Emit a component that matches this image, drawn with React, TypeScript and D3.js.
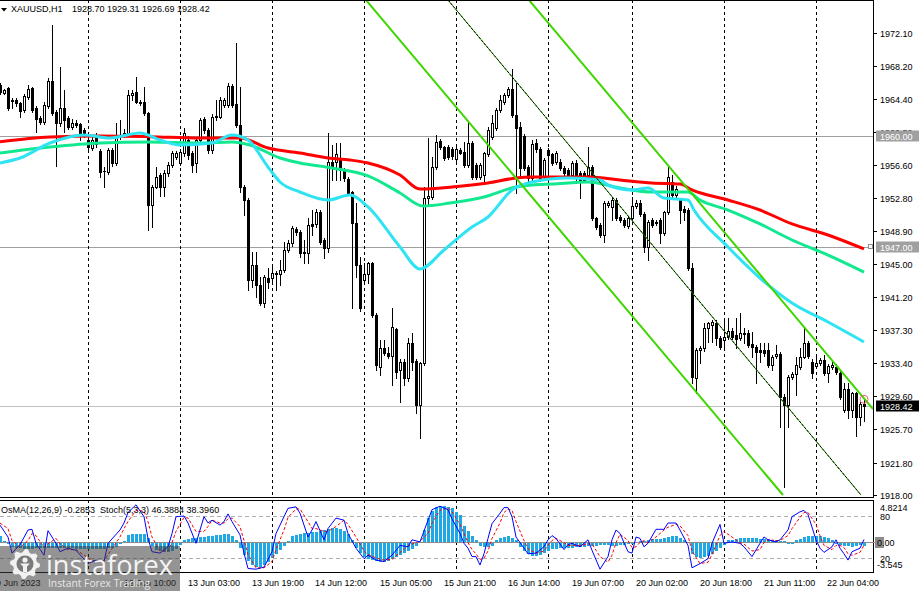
import React, { useEffect, useRef } from 'react';
import * as d3 from 'd3';

const W = 919;
const H = 591;

// OHLC per H1 bar (open, high, low, close)
const ohlc: [number, number, number, number][] = [
  [1966.0, 1966.2, 1965.0, 1965.23], [1965.1, 1965.6, 1964.9, 1965.4], [1965.62, 1965.8, 1963.1, 1963.28], [1964.2, 1964.45, 1963.28, 1964.1],
  [1964.25, 1964.5, 1963.6, 1963.86], [1963.86, 1964.0, 1962.3, 1963.0], [1963.08, 1964.9, 1962.9, 1964.72], [1964.6, 1966.0, 1964.4, 1965.54],
  [1965.62, 1965.8, 1962.9, 1963.08], [1963.28, 1963.5, 1960.55, 1962.03], [1962.18, 1962.4, 1961.5, 1961.72], [1961.72, 1964.0, 1961.5, 1963.67],
  [1963.55, 1966.79, 1963.3, 1966.48], [1966.48, 1973.03, 1962.5, 1962.77], [1962.9, 1963.1, 1956.56, 1961.52], [1961.52, 1968.16, 1961.2, 1963.28],
  [1963.28, 1965.42, 1960.55, 1961.91], [1962.18, 1962.4, 1960.8, 1961.13], [1961.13, 1962.0, 1960.9, 1961.52], [1961.52, 1961.9, 1961.1, 1961.37],
  [1961.4, 1961.6, 1959.57, 1960.35], [1960.7, 1961.0, 1959.9, 1960.2], [1959.57, 1960.0, 1958.5, 1958.79], [1958.6, 1959.9, 1958.4, 1959.57],
  [1960.15, 1960.4, 1958.8, 1959.1], [1958.32, 1958.5, 1955.27, 1955.86], [1955.9, 1956.45, 1954.1, 1955.95], [1955.86, 1958.6, 1955.6, 1958.4],
  [1958.4, 1958.6, 1956.5, 1956.84], [1956.84, 1961.52, 1956.6, 1960.15], [1959.96, 1961.91, 1959.7, 1960.15], [1960.15, 1960.8, 1959.9, 1960.43],
  [1960.35, 1965.42, 1960.1, 1964.84], [1964.84, 1965.4, 1964.2, 1965.11], [1965.23, 1966.98, 1963.9, 1964.06], [1964.06, 1964.3, 1963.7, 1963.94],
  [1964.06, 1965.81, 1962.5, 1962.69], [1962.69, 1962.9, 1949.03, 1951.96], [1951.96, 1954.3, 1949.42, 1954.1], [1954.1, 1956.45, 1953.9, 1955.27],
  [1955.47, 1955.7, 1953.0, 1954.1], [1954.1, 1956.0, 1953.0, 1955.74], [1955.67, 1957.0, 1955.4, 1956.64], [1956.64, 1958.3, 1956.4, 1958.01],
  [1957.62, 1958.3, 1957.3, 1958.01], [1956.84, 1958.5, 1956.6, 1958.2], [1958.01, 1960.94, 1957.7, 1960.35], [1959.57, 1960.0, 1957.4, 1957.81],
  [1958.01, 1958.3, 1955.86, 1956.64], [1956.84, 1959.9, 1955.86, 1959.57], [1959.57, 1962.2, 1959.3, 1961.91], [1961.99, 1962.3, 1960.4, 1960.74],
  [1960.74, 1961.0, 1958.1, 1958.4], [1958.4, 1962.6, 1958.1, 1962.3], [1962.38, 1964.25, 1961.9, 1962.22], [1962.3, 1964.64, 1962.1, 1964.25],
  [1963.67, 1964.5, 1963.4, 1964.25], [1963.67, 1966.2, 1963.4, 1965.89], [1965.89, 1966.1, 1963.4, 1963.67], [1963.79, 1970.89, 1961.1, 1961.33],
  [1961.33, 1965.81, 1953.52, 1954.1], [1954.1, 1954.3, 1950.79, 1952.54], [1952.54, 1952.8, 1942.01, 1943.18], [1943.18, 1946.5, 1942.4, 1944.93],
  [1944.93, 1946.5, 1941.23, 1942.59], [1942.59, 1943.57, 1940.2, 1940.45], [1940.45, 1943.8, 1940.06, 1943.57], [1943.45, 1944.54, 1942.2, 1942.9],
  [1943.37, 1944.93, 1943.1, 1943.96], [1943.96, 1944.2, 1942.01, 1943.84], [1943.84, 1945.52, 1942.59, 1944.35], [1944.35, 1947.67, 1944.1, 1946.69],
  [1946.69, 1947.86, 1946.4, 1947.47], [1947.47, 1949.5, 1947.2, 1949.23], [1949.11, 1949.42, 1948.5, 1948.76], [1948.84, 1949.0, 1945.91, 1946.3],
  [1946.3, 1947.86, 1945.13, 1946.4], [1946.3, 1950.4, 1945.13, 1949.62], [1949.73, 1951.4, 1948.45, 1949.5], [1949.7, 1951.49, 1949.4, 1951.18],
  [1951.18, 1951.4, 1947.4, 1947.67], [1947.86, 1948.1, 1945.7, 1946.89], [1946.89, 1960.35, 1946.5, 1957.03], [1957.03, 1958.99, 1954.89, 1956.25],
  [1957.03, 1959.18, 1954.89, 1957.89], [1957.42, 1959.18, 1954.89, 1956.06], [1956.06, 1956.3, 1954.8, 1955.08], [1954.97, 1955.2, 1953.1, 1953.32],
  [1953.44, 1953.6, 1939.86, 1949.89], [1949.89, 1952.15, 1943.57, 1944.93], [1944.93, 1945.91, 1939.6, 1939.86], [1943.18, 1945.13, 1942.9, 1943.88],
  [1943.88, 1945.3, 1942.8, 1945.13], [1945.13, 1945.3, 1938.8, 1939.08], [1939.08, 1939.3, 1932.64, 1933.23], [1933.03, 1936.15, 1932.06, 1935.18],
  [1935.18, 1936.15, 1934.4, 1934.67], [1934.67, 1935.37, 1934.1, 1934.28], [1934.28, 1939.86, 1930.89, 1937.71], [1937.4, 1937.6, 1931.67, 1932.45],
  [1932.64, 1933.9, 1928.93, 1933.62], [1933.62, 1933.9, 1930.89, 1931.67], [1931.67, 1936.35, 1931.4, 1935.76], [1935.76, 1936.93, 1932.64, 1933.62],
  [1933.7, 1933.9, 1927.57, 1928.54], [1928.54, 1933.6, 1924.64, 1933.42], [1933.42, 1954.1, 1933.2, 1952.74], [1952.74, 1959.77, 1951.96, 1953.01],
  [1952.94, 1957.62, 1952.7, 1956.45], [1956.45, 1960.16, 1956.2, 1959.38], [1959.46, 1959.7, 1958.5, 1958.71], [1958.71, 1958.9, 1957.2, 1957.43],
  [1958.71, 1959.0, 1957.4, 1957.62], [1958.5, 1958.8, 1957.4, 1957.7], [1957.31, 1958.7, 1957.1, 1958.48], [1958.4, 1958.6, 1957.9, 1958.09],
  [1958.21, 1959.38, 1956.4, 1956.65], [1956.65, 1961.72, 1956.4, 1959.18], [1959.18, 1959.4, 1955.0, 1955.2], [1956.65, 1956.9, 1955.0, 1955.28],
  [1955.28, 1956.9, 1955.0, 1956.65], [1955.47, 1958.2, 1954.5, 1958.01], [1957.93, 1961.13, 1957.7, 1960.74], [1959.96, 1962.5, 1959.7, 1961.52],
  [1960.94, 1963.3, 1960.7, 1963.09], [1963.09, 1964.84, 1962.9, 1964.26], [1964.06, 1965.1, 1963.8, 1964.84], [1964.84, 1965.8, 1964.6, 1965.51],
  [1965.51, 1967.85, 1962.3, 1962.5], [1962.5, 1966.21, 1953.33, 1960.94], [1961.13, 1961.72, 1955.08, 1956.25], [1960.04, 1960.3, 1956.0, 1956.25],
  [1956.37, 1956.6, 1954.8, 1955.08], [1955.08, 1959.57, 1954.9, 1959.1], [1959.18, 1959.65, 1958.2, 1958.48], [1958.48, 1958.7, 1954.8, 1955.08],
  [1955.28, 1957.5, 1955.0, 1957.23], [1958.4, 1958.6, 1955.67, 1957.82], [1957.93, 1958.1, 1956.6, 1956.84], [1957.04, 1958.3, 1956.8, 1958.09],
  [1957.04, 1957.3, 1956.0, 1956.25], [1956.25, 1956.5, 1955.4, 1955.67], [1956.06, 1956.3, 1955.2, 1955.47], [1955.47, 1957.1, 1955.2, 1956.84],
  [1956.84, 1957.23, 1954.5, 1955.47], [1955.67, 1955.9, 1952.74, 1954.89], [1955.67, 1955.9, 1954.6, 1954.89], [1955.47, 1958.79, 1955.2, 1956.37],
  [1956.37, 1956.6, 1950.2, 1950.4], [1950.4, 1950.6, 1949.2, 1949.42], [1949.62, 1949.9, 1948.2, 1948.45], [1948.45, 1952.4, 1947.67, 1952.16],
  [1951.96, 1952.4, 1951.7, 1952.16], [1951.77, 1952.94, 1950.21, 1952.55], [1952.55, 1952.8, 1950.2, 1950.4], [1950.59, 1950.8, 1950.0, 1950.21],
  [1950.21, 1950.4, 1949.4, 1949.62], [1949.5, 1950.6, 1949.3, 1950.4], [1950.4, 1952.94, 1950.2, 1951.88], [1951.88, 1952.5, 1951.6, 1952.24],
  [1952.24, 1952.5, 1950.7, 1950.91], [1950.91, 1951.1, 1946.5, 1947.08], [1947.08, 1950.2, 1945.52, 1950.01], [1950.21, 1950.4, 1949.4, 1949.62],
  [1950.01, 1950.2, 1949.6, 1949.82], [1950.21, 1950.4, 1947.5, 1948.64], [1948.64, 1951.3, 1948.4, 1951.1], [1951.1, 1956.53, 1950.9, 1955.28],
  [1954.69, 1955.5, 1952.9, 1953.13], [1953.13, 1954.2, 1952.9, 1953.8], [1952.55, 1952.8, 1949.81, 1951.37], [1951.45, 1951.9, 1950.2, 1951.18],
  [1951.37, 1951.6, 1944.3, 1944.54], [1944.54, 1945.13, 1931.08, 1931.86], [1931.66, 1935.2, 1929.91, 1934.98], [1934.98, 1935.4, 1933.42, 1935.18],
  [1935.18, 1938.1, 1934.9, 1937.52], [1937.52, 1938.3, 1935.96, 1938.1], [1937.91, 1938.5, 1935.96, 1938.22], [1938.1, 1938.49, 1935.57, 1936.35],
  [1936.35, 1936.6, 1935.1, 1935.37], [1936.15, 1938.69, 1935.37, 1936.54], [1936.54, 1938.69, 1936.3, 1937.21], [1937.21, 1937.5, 1936.3, 1936.54],
  [1936.74, 1938.69, 1935.18, 1936.23], [1936.35, 1939.35, 1936.1, 1937.01], [1936.93, 1937.52, 1935.76, 1936.82], [1936.93, 1937.32, 1935.3, 1935.57],
  [1935.65, 1937.1, 1934.2, 1935.37], [1935.37, 1935.6, 1931.08, 1934.79], [1934.98, 1935.76, 1933.62, 1934.79], [1934.98, 1935.76, 1934.3, 1934.59],
  [1934.98, 1935.76, 1933.0, 1933.23], [1933.23, 1934.4, 1932.64, 1934.2], [1934.28, 1935.57, 1934.0, 1934.51], [1934.51, 1934.7, 1926.01, 1929.52],
  [1929.52, 1929.8, 1918.98, 1928.54], [1928.54, 1932.1, 1926.01, 1931.86], [1931.86, 1932.4, 1931.6, 1932.17], [1932.17, 1934.2, 1929.71, 1933.23],
  [1933.03, 1935.18, 1932.8, 1934.2], [1934.2, 1937.52, 1934.0, 1935.76], [1935.76, 1936.0, 1934.0, 1934.28], [1933.62, 1933.9, 1931.66, 1932.25],
  [1933.11, 1934.4, 1932.9, 1933.5], [1933.42, 1934.1, 1933.2, 1933.81], [1933.81, 1934.4, 1932.0, 1932.25], [1932.33, 1933.3, 1931.27, 1933.11],
  [1933.03, 1933.81, 1932.8, 1933.23], [1933.03, 1933.3, 1932.2, 1932.45], [1932.33, 1932.5, 1929.3, 1929.52], [1927.96, 1931.08, 1927.7, 1930.43],
  [1930.43, 1931.08, 1926.98, 1927.96], [1927.96, 1930.1, 1927.18, 1929.91], [1929.91, 1930.1, 1924.91, 1927.18], [1927.18, 1928.9, 1926.2, 1928.66],
  [1928.7, 1929.31, 1926.69, 1928.42],
];

// Moving averages read as [bar, price]
const maRed: [number, number][] = [
  [0, 1959.37], [12.5, 1959.92], [25, 1960.04], [37.5, 1959.96], [50, 1959.81], [60, 1959.81], [67, 1958.63], [75, 1958.05],
  [82, 1957.46], [87.5, 1957.23], [92, 1956.88], [100, 1955.47], [105, 1953.83], [113, 1954.07], [122, 1954.54], [129, 1955.12],
  [133, 1955.24], [147.5, 1955.24], [155, 1954.89], [163, 1954.54], [170, 1954.42], [173, 1953.72], [182, 1952.54], [190, 1951.37],
  [198, 1949.74], [207, 1948.45], [216, 1946.81],
];
const maGreen: [number, number][] = [
  [0, 1958.05], [12.5, 1958.75], [25, 1959.22], [37.5, 1959.34], [50, 1959.22], [58, 1959.34], [62.5, 1958.99], [70, 1957.46],
  [75, 1956.88], [83, 1956.29], [92, 1955.36], [100, 1953.37], [105.75, 1951.84], [112.5, 1952.19], [121, 1952.9], [129, 1954.07],
  [133, 1954.3], [138, 1954.42], [147, 1954.65], [155, 1953.95], [163, 1953.48], [172, 1953.48], [175, 1952.54], [182, 1951.37],
  [190, 1949.74], [198, 1947.86], [207, 1946.1], [216, 1944.11],
];
const maCyan: [number, number][] = [
  [0, 1956.88], [5, 1957.46], [12.5, 1959.22], [21, 1960.16], [27.5, 1959.81], [35, 1960.39], [40, 1959.57], [45, 1958.99],
  [53, 1959.22], [58, 1960.16], [62, 1959.57], [67, 1956.41], [70, 1954.65], [75, 1953.48], [82, 1952.54], [87.5, 1953.13],
  [92, 1951.73], [100, 1947.04], [105, 1944.47], [111, 1946.69], [118, 1949.38], [122, 1950.55], [128, 1953.72], [133, 1954.65],
  [142, 1955.12], [150, 1954.89], [152, 1954.3], [158, 1953.72], [162, 1953.95], [166, 1952.78], [172, 1952.54], [173.5, 1951.37],
  [182, 1947.04], [190, 1943.41], [198, 1940.48], [207, 1938.26], [216, 1935.92],
];

// Channel trend lines: [bar1, price1, bar2, price2]
const channelLines: [number, number, number, number][] = [
  [91.5, 1975.96, 195.75, 1918.0],
  [132.25, 1975.96, 218.25, 1928.07],
];
const channelMid: [number, number, number, number] = [112, 1975.96, 215.25, 1918.0];

// OsMA(12,26,9) histogram, one value per bar
const osma: number[] = [
  0.72, 0.12, -0.12,
  -0.48, -0.6, -0.6, -0.72, -0.72, -0.72, -0.6, -0.6, -0.6, -0.6, -0.6, -0.6, -0.6, -0.6, -0.6, -0.6, -0.72, -0.72, -0.72, -0.72, -0.72, -0.72, -0.72, -0.72, -0.6, -0.6, -0.48,
  -0.12, 0.12,
  0.84, 0.96, 0.96, 0.96, 0.96,
  0.48, -0.36,
  -0.84, -0.96, -1.08, -1.08, -0.96, -0.72,
  -0.24,
  0.24, 0.36, 0.48, 0.48, 0.6, 0.6, 0.72, 0.72, 0.84, 0.84, 0.96, 0.96,
  0.72, 0.24,
  -0.6, -1.43, -2.15, -2.63, -2.87, -2.87, -2.63, -2.27, -1.79, -1.31, -0.84, -0.36,
  0.12,
  0.72, 0.84, 0.96, 1.08, 1.08, 1.2, 1.2, 1.31, 1.43, 1.55, 1.67, 1.67, 1.55, 1.31, 0.96,
  0.24,
  -0.6, -1.2, -1.67, -1.91, -2.03, -2.15, -2.27, -2.27, -2.15, -1.91, -1.67, -1.43, -1.2, -0.96, -0.72, -0.36,
  0,
  1.43, 2.87, 3.7, 4.18, 4.3, 4.3, 4.18, 4.06, 3.59, 3.23, 1.91, 1.31, 0.72, 0.24,
  -0.36, -0.48, -0.48, -0.36,
  0.24, 0.48, 0.6, 0.72, 0.48, 0.24,
  -0.48, -0.96, -1.31, -1.55, -1.55, -1.43, -1.2, -0.96,
  -0.72, -0.72, -0.6, -0.6, -0.6, -0.6, -0.48, -0.48, -0.48,
  -0.36, -0.36, -0.36, -0.24, -0.24, -0.24, -0.36, -0.36, -0.24, -0.24,
  -0.12, -0.12, 0, 0.12, 0.12, 0.24, 0.36, 0.36,
  0.36, 0.48, 0.6, 0.72, 0.72, 0.48, 0.24,
  0,
  -1.31, -1.67, -1.79, -1.67, -1.55, -1.31, -0.96, -0.6, -0.24,
  0.24, 0.24, 0.36,
  0.48, 0.48, 0.48, 0.48, 0.48, 0.36, 0.36, 0.36, 0.24, 0.24, 0.12, 0.12,
  -0.12, -0.12,
  0.24, 0.36, 0.6, 0.72, 0.72, 0.72, 0.72, 0.6, 0.48, 0.24,
  -0.12, -0.24, -0.36, -0.36, -0.48, -0.36, -0.24, -0.29,
];

// Stochastic(5,3,3) main and signal, [bar, value]
const stochMain: [number, number][] = [
  [0, 67], [2, 50], [3, 27], [5, 39], [7, 60], [8, 61], [9, 41], [11, 24], [12, 59], [14, 41], [15, 29], [17, 34], [19, 31],
  [22, 12], [24, 17], [26, 15], [27, 41], [30, 60], [31, 70], [32, 85], [34, 96], [36, 79], [37, 48], [38, 29], [40, 27],
  [42, 36], [43, 55], [44, 79], [46, 80], [47, 70], [49, 41], [51, 79], [52, 70], [53, 74], [55, 67], [56, 72], [57, 83],
  [58, 72], [60, 53], [61, 27], [62, 5], [64, 4], [66, 7], [68, 29], [69, 55], [71, 79], [72, 91], [74, 93], [75, 84],
  [77, 50], [78, 60], [79, 72], [81, 46], [82, 62], [84, 77], [86, 74], [87, 55], [89, 34], [91, 19], [92, 24], [94, 17],
  [96, 15], [98, 24], [100, 38], [102, 36], [103, 46], [105, 43], [107, 74], [108, 89], [110, 94], [112, 89], [113, 76],
  [115, 55], [116, 41], [117, 34], [118, 22], [119, 22], [120, 10], [121, 26], [122, 48], [123, 69], [125, 84], [126, 92],
  [127, 92], [128, 79], [129, 50], [131, 34], [132, 26], [134, 27], [136, 36], [137, 46], [138, 52], [139, 48], [141, 32],
  [142, 39], [143, 41], [145, 36], [147, 46], [148, 31], [150, 4], [152, 22], [153, 46], [154, 60], [155, 55], [157, 29],
  [158, 27], [159, 50], [160, 48], [161, 36], [162, 41], [164, 61], [166, 61], [167, 70], [169, 70], [170, 60], [172, 38],
  [173, 6], [175, 12], [177, 19], [178, 41], [180, 68], [181, 41], [183, 43], [185, 41], [186, 36], [188, 22], [190, 41],
  [191, 50], [192, 46], [194, 43], [195, 46], [197, 60], [198, 79], [200, 86], [201, 88], [202, 82], [204, 46], [205, 34],
  [206, 28], [208, 36], [209, 46], [210, 34], [211, 26], [212, 17], [213, 29], [215, 34], [216, 46.39],
];
const stochSignal: [number, number][] = [
  [0, 70], [2, 62], [3, 45], [5, 35], [7, 45], [8, 55], [9, 52], [11, 35], [12, 40], [14, 48], [15, 40], [17, 32], [19, 32],
  [22, 20], [24, 15], [26, 16], [27, 25], [30, 50], [31, 62], [32, 72], [34, 88], [36, 87], [37, 72], [38, 50], [40, 30],
  [42, 30], [43, 42], [44, 58], [46, 78], [47, 77], [49, 58], [51, 58], [52, 65], [53, 74], [55, 70], [56, 70], [57, 76],
  [58, 77], [60, 65], [61, 45], [62, 25], [64, 6], [66, 6], [68, 15], [69, 32], [71, 60], [72, 78], [74, 90], [75, 90],
  [77, 72], [78, 62], [79, 62], [81, 58], [82, 58], [84, 65], [86, 74], [87, 68], [89, 50], [91, 30], [92, 25], [94, 20],
  [96, 17], [98, 18], [100, 28], [102, 37], [103, 40], [105, 44], [107, 55], [108, 70], [110, 88], [112, 92], [113, 86],
  [115, 68], [116, 55], [117, 42], [118, 32], [119, 26], [120, 18], [121, 20], [122, 30], [123, 48], [125, 70], [126, 85],
  [127, 90], [128, 88], [129, 72], [131, 45], [132, 33], [134, 27], [136, 30], [137, 38], [138, 45], [139, 48], [141, 42],
  [142, 38], [143, 38], [145, 38], [147, 40], [148, 40], [150, 22], [152, 14], [153, 24], [154, 42], [155, 54], [157, 45],
  [158, 35], [159, 36], [160, 42], [161, 45], [162, 42], [164, 50], [166, 60], [167, 64], [169, 68], [170, 66], [172, 52],
  [173, 30], [175, 12], [177, 14], [178, 25], [180, 52], [181, 58], [183, 50], [185, 42], [186, 40], [188, 30], [190, 32],
  [191, 42], [192, 46], [194, 45], [195, 45], [197, 52], [198, 62], [200, 78], [201, 85], [202, 85], [204, 68], [205, 52],
  [206, 38], [208, 32], [209, 38], [210, 38], [211, 35], [212, 26], [213, 24], [215, 28], [216, 38.4],
];

const priceTicks: number[] = [1972.1, 1968.2, 1964.4, 1960.5, 1956.6, 1952.8, 1948.9, 1945.0, 1941.2, 1937.3, 1933.4, 1929.6, 1925.7, 1921.8, 1918.0];
const levelLines: number[] = [1960.0, 1947.0];
const lastPrice = 1928.42;
const alertPrice = 1929.2;
const gridBars: number[] = [22, 45, 68, 91, 114, 137, 158, 181, 204];
const timeLabels: string[] = ['9 Jun 2023', '12 Jun 10:00', '13 Jun 03:00', '13 Jun 19:00', '14 Jun 12:00', '15 Jun 05:00', '15 Jun 21:00', '16 Jun 14:00', '19 Jun 07:00', '20 Jun 02:00', '20 Jun 18:00', '21 Jun 11:00', '22 Jun 04:00'];
const timeLabelBars: number[] = [-1, 31, 47, 63, 78.75, 95, 111, 127, 143, 159, 175, 191, 206.75];
const titleSymbol = 'XAUUSD,H1';
const titleValues = '1928.70 1929.31 1926.69 1928.42';
const oscTitle = 'OsMA(12,26,9) -0.2853  Stoch(5,3,3) 46.3884 38.3960';
const osmaMax = 4.8214;
const osmaMin = -3.545;
const stochLevels: number[] = [80, 20];

const FONT = '"Liberation Sans", Arial, sans-serif';

export default function App() {
  const ref = useRef<SVGSVGElement | null>(null);

  useEffect(() => {
    const svg = d3.select(ref.current);
    svg.selectAll('*').remove();

    const axisX = 873;
    const mainTop = 0;
    const mainBottom = 497;
    const oscTop = 500;
    const oscBottom = 572;

    const x = d3.scaleLinear().domain([0, 216]).range([0, 864]);
    const y = d3.scaleLinear().domain([1918.0, 1972.1]).range([495, 33]);
    const yO = d3.scaleLinear().domain([osmaMin, osmaMax]).range([oscBottom, oscTop + 2]);
    const yS = d3.scaleLinear().domain([0, 100]).range([oscBottom, oscTop + 2]);

    svg.append('rect').attr('x', 0).attr('y', 0).attr('width', W).attr('height', H).attr('fill', '#fff');

    const defs = svg.append('defs');
    defs.append('clipPath').attr('id', 'clipMain').append('rect').attr('x', 0).attr('y', mainTop + 1).attr('width', axisX).attr('height', mainBottom - mainTop - 1);
    defs.append('clipPath').attr('id', 'clipOsc').append('rect').attr('x', 0).attr('y', oscTop + 1).attr('width', axisX).attr('height', oscBottom - oscTop - 1);

    const main = svg.append('g').attr('clip-path', 'url(#clipMain)');
    const osc = svg.append('g').attr('clip-path', 'url(#clipOsc)');

    // horizontal level lines
    levelLines.forEach((p) => {
      const yy = Math.round(y(p)) + 0.5;
      main.append('line').attr('x1', 0).attr('x2', axisX).attr('y1', yy).attr('y2', yy).attr('stroke', '#a0a0a0').attr('stroke-width', 1);
    });
    {
      const yy = Math.round(y(lastPrice)) + 0.5;
      main.append('line').attr('x1', 0).attr('x2', axisX).attr('y1', yy).attr('y2', yy).attr('stroke', '#c0c0c0').attr('stroke-width', 1);
    }

    // vertical grid
    gridBars.forEach((b) => {
      const xx = Math.round(x(b)) + 0.5;
      main.append('line').attr('x1', xx).attr('x2', xx).attr('y1', mainTop).attr('y2', mainBottom).attr('stroke', '#000').attr('stroke-dasharray', '3,3').attr('shape-rendering', 'crispEdges');
      osc.append('line').attr('x1', xx).attr('x2', xx).attr('y1', oscTop).attr('y2', oscBottom).attr('stroke', '#000').attr('stroke-dasharray', '3,3').attr('shape-rendering', 'crispEdges');
    });

    // candles
    const cg = main.append('g').attr('shape-rendering', 'crispEdges');
    ohlc.forEach(([o, h, l, c], i) => {
      const cx = Math.round(x(i));
      const yh = Math.round(y(h));
      const yl = Math.round(y(l));
      const yo = Math.round(y(o));
      const yc = Math.round(y(c));
      cg.append('rect').attr('x', cx).attr('y', yh).attr('width', 1).attr('height', Math.max(1, yl - yh + 1)).attr('fill', '#000');
      const top = Math.min(yo, yc);
      const bot = Math.max(yo, yc);
      cg.append('rect').attr('x', cx - 1).attr('y', top).attr('width', 3).attr('height', bot - top + 1).attr('fill', '#000');
      if (c >= o && bot - top >= 2) {
        cg.append('rect').attr('x', cx).attr('y', top + 1).attr('width', 1).attr('height', bot - top - 1).attr('fill', '#fff');
      }
    });

    // moving averages
    const maLine = d3.line<[number, number]>().x((d) => x(d[0])).y((d) => y(d[1])).curve(d3.curveMonotoneX);
    main.append('path').attr('d', maLine(maRed) || '').attr('fill', 'none').attr('stroke', '#ff0000').attr('stroke-width', 3);
    main.append('path').attr('d', maLine(maGreen) || '').attr('fill', 'none').attr('stroke', '#12e890').attr('stroke-width', 3);
    main.append('path').attr('d', maLine(maCyan) || '').attr('fill', 'none').attr('stroke', '#2ee3f2').attr('stroke-width', 3);

    // channel
    channelLines.forEach(([b1, p1, b2, p2]) => {
      main.append('line').attr('x1', x(b1)).attr('y1', y(p1)).attr('x2', x(b2)).attr('y2', y(p2)).attr('stroke', '#3fd600').attr('stroke-width', 2);
    });
    {
      const [b1, p1, b2, p2] = channelMid;
      main.append('line').attr('x1', x(b1)).attr('y1', y(p1)).attr('x2', x(b2)).attr('y2', y(p2)).attr('stroke', '#3fd600').attr('stroke-width', 1);
      main.append('line').attr('x1', x(b1)).attr('y1', y(p1)).attr('x2', x(b2)).attr('y2', y(p2)).attr('stroke', '#000').attr('stroke-width', 1).attr('stroke-dasharray', '3,1');
    }

    // alert circle on last bar
    main.append('circle').attr('cx', x(216)).attr('cy', y(alertPrice)).attr('r', 4).attr('fill', 'none').attr('stroke', '#f06478').attr('stroke-width', 1);

    // oscillator
    stochLevels.forEach((v) => {
      const yy = Math.round(yS(v)) + 0.5;
      osc.append('line').attr('x1', 0).attr('x2', axisX).attr('y1', yy).attr('y2', yy).attr('stroke', '#b0b0b0').attr('stroke-dasharray', '4,3');
    });
    const y0 = Math.round(yO(0));
    osc.append('line').attr('x1', 0).attr('x2', axisX).attr('y1', y0 + 0.5).attr('y2', y0 + 0.5).attr('stroke', '#8c8c8c');
    const hg = osc.append('g').attr('shape-rendering', 'crispEdges');
    osma.forEach((v, i) => {
      const cx = Math.round(x(i));
      const yv = Math.round(yO(v));
      const top = Math.min(yv, y0);
      const hgt = Math.abs(yv - y0);
      if (hgt > 0) hg.append('rect').attr('x', cx - 1).attr('y', v >= 0 ? top : y0 + 1).attr('width', 3).attr('height', hgt).attr('fill', '#1ea9e4');
    });
    const sLine = d3.line<[number, number]>().x((d) => x(d[0])).y((d) => yS(d[1]));
    osc.append('path').attr('d', sLine(stochSignal) || '').attr('fill', 'none').attr('stroke', '#ff0000').attr('stroke-width', 1).attr('stroke-dasharray', '3,2');
    osc.append('path').attr('d', sLine(stochMain) || '').attr('fill', 'none').attr('stroke', '#0000ff').attr('stroke-width', 1);

    // frames
    const fr = svg.append('g').attr('shape-rendering', 'crispEdges').attr('stroke', '#000');
    fr.append('line').attr('x1', 0).attr('x2', axisX).attr('y1', 0.5).attr('y2', 0.5);
    fr.append('line').attr('x1', 0).attr('x2', axisX + 1).attr('y1', mainBottom + 0.5).attr('y2', mainBottom + 0.5);
    fr.append('line').attr('x1', 0).attr('x2', axisX + 1).attr('y1', oscTop + 0.5).attr('y2', oscTop + 0.5);
    fr.append('line').attr('x1', 0).attr('x2', axisX + 1).attr('y1', oscBottom + 0.5).attr('y2', oscBottom + 0.5);
    fr.append('line').attr('x1', axisX + 0.5).attr('x2', axisX + 0.5).attr('y1', 0).attr('y2', mainBottom);
    fr.append('line').attr('x1', axisX + 0.5).attr('x2', axisX + 0.5).attr('y1', oscTop).attr('y2', oscBottom);

    // price axis
    const ax = svg.append('g').attr('font-family', FONT).attr('font-size', 9);
    priceTicks.forEach((p) => {
      const yy = Math.round(y(p));
      ax.append('line').attr('x1', axisX).attr('x2', axisX + 4).attr('y1', yy + 0.5).attr('y2', yy + 0.5).attr('stroke', '#000').attr('shape-rendering', 'crispEdges');
      ax.append('text').attr('x', 880).attr('y', yy + 3.5).attr('fill', '#000').text(p.toFixed(2));
    });
    const box = (p: number, fill: string, text: string) => {
      const yy = y(p);
      ax.append('rect').attr('x', 876).attr('y', Math.round(yy) - 5.5).attr('width', 43).attr('height', 11).attr('fill', fill);
      ax.append('text').attr('x', 880).attr('y', Math.round(yy) + 3.5).attr('fill', '#fff').text(text);
    };
    levelLines.forEach((p) => box(p, '#a0a0a0', p.toFixed(2)));
    box(lastPrice, '#000', lastPrice.toFixed(2));
    {
      const yy = Math.round(y(levelLines[1]));
      svg.append('rect').attr('x', 868.5).attr('y', yy - 2.5).attr('width', 4).attr('height', 4).attr('fill', '#fff').attr('stroke', '#909090');
    }

    // oscillator axis
    ax.append('text').attr('x', 880).attr('y', oscTop + 11).text(osmaMax.toFixed(4));
    stochLevels.forEach((v) => {
      ax.append('text').attr('x', 880).attr('y', Math.round(yS(v)) + 4).text(String(v));
    });
    ax.append('rect').attr('x', 875).attr('y', y0 - 5).attr('width', 9).attr('height', 11).attr('fill', '#8c8c8c');
    ax.append('line').attr('x1', axisX).attr('x2', 876).attr('y1', y0 + 0.5).attr('y2', y0 + 0.5).attr('stroke', '#8c8c8c');
    ax.append('text').attr('x', 877).attr('y', y0 + 4).text((0).toFixed(2));
    ax.append('text').attr('x', 877).attr('y', oscBottom - 4).text(osmaMin.toFixed(3));

    // time axis
    timeLabels.forEach((t, k) => {
      ax.append('text').attr('x', x(timeLabelBars[k])).attr('y', 586).attr('fill', '#000').text(t);
    });

    // titles
    svg.append('path').attr('d', 'M1,8 L7,8 L4,11.5 Z').attr('fill', '#000');
    ax.append('text').attr('x', 11).attr('y', 12).text(titleSymbol);
    ax.append('text').attr('x', 72).attr('y', 12).text(titleValues);
    ax.append('text').attr('x', 1).attr('y', 513).style('white-space', 'pre').text(oscTitle);

    // watermark logo
    const logo = svg.append('g');
    logo.append('rect').attr('x', 0).attr('y', 546).attr('width', 180).attr('height', 45).attr('fill', 'rgba(60,60,60,0.55)');
    const gcx = 25, gcy = 564;
    const pts: string[] = [];
    const teeth = 8;
    for (let k = 0; k < teeth * 4; k++) {
      const a = (k / (teeth * 4)) * Math.PI * 2;
      const r = (k % 4 < 2) ? 15 : 12;
      pts.push(`${gcx + r * Math.cos(a)},${gcy + r * Math.sin(a)}`);
    }
    logo.append('path').attr('d', 'M' + pts.join('L') + 'Z').attr('fill', '#f2f2f2');
    logo.append('circle').attr('cx', gcx).attr('cy', gcy).attr('r', 8.5).attr('fill', '#7a7a7a');
    logo.append('circle').attr('cx', gcx).attr('cy', gcy - 4).attr('r', 2.6).attr('fill', '#f2f2f2');
    logo.append('path').attr('d', `M${gcx - 5},${gcy - 0.5} L${gcx + 5},${gcy - 0.5} L${gcx + 2},${gcy + 2.5} L${gcx + 2},${gcy + 8} L${gcx - 2},${gcy + 8} L${gcx - 2},${gcy + 2.5} Z`).attr('fill', '#f2f2f2');
    logo.append('text').attr('x', 46).attr('y', 575).attr('font-family', '"Open Sans", sans-serif').attr('font-size', 27).attr('fill', '#f4f4f4')
      .attr('textLength', 127).attr('lengthAdjust', 'spacingAndGlyphs').text('instaforex');
    logo.append('text').attr('x', 48).attr('y', 587).attr('font-family', '"Open Sans", sans-serif').attr('font-size', 11).attr('fill', '#e8e8e8')
      .attr('textLength', 102).attr('lengthAdjust', 'spacingAndGlyphs').text('Instant Forex Trading');
  }, []);

  return <svg ref={ref} width={W} height={H} style={{ position: 'absolute', left: 0, top: 0, display: 'block' }} />;
}
